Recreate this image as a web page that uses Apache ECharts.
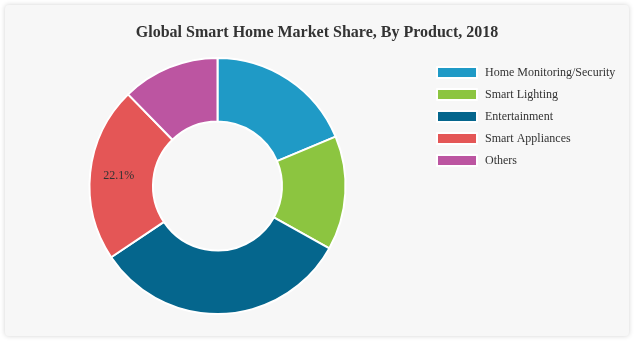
<!DOCTYPE html>
<html>
<head>
<meta charset="utf-8">
<script src="https://cdn.jsdelivr.net/npm/echarts@6/dist/echarts.min.js"></script>
<style>
html,body{margin:0;padding:0;background:#ffffff;width:637px;height:344px;overflow:hidden;}
#card{position:absolute;left:5px;top:5px;width:624px;height:331px;background:#f7f7f7;border-radius:4px;box-shadow:0 0 5px rgba(0,0,0,0.18);}
#chart{width:624px;height:331px;}
</style>
</head>
<body>
<div id="card"><div id="chart"></div></div>
<script>
const categories = ['Home Monitoring/Security', 'Smart Lighting', 'Entertainment', 'Smart Appliances', 'Others'];
const shares = [18.7, 14.4, 32.5, 22.1, 12.3];
const labelledCategory = 'Smart Appliances';
const colors = ['#1f9ac6', '#8cc540', '#05668d', '#e45656', '#bc55a1'];
const fontFamily = '"Liberation Serif", "Times New Roman", serif';

const chart = echarts.init(document.getElementById('chart'), null, {renderer: 'canvas'});
chart.setOption({
  backgroundColor: 'transparent',
  animation: false,
  color: colors,
  title: {
    text: 'Global Smart Home Market Share, By Product, 2018',
    left: 'center',
    top: 15,
    textStyle: {fontFamily: fontFamily, fontSize: 16, fontWeight: 'bold', color: '#333333'}
  },
  legend: {
    orient: 'vertical',
    left: 426,
    top: 56,
    itemWidth: 40,
    itemHeight: 11,
    itemGap: 9,
    icon: 'rect',
    textStyle: {fontFamily: fontFamily, fontSize: 12, color: '#333333', padding: [0,0,0,3]},
    data: categories
  },
  series: [{
    type: 'pie',
    center: [212.5, 181],
    radius: [64.5, 128],
    startAngle: 90,
    clockwise: true,
    avoidLabelOverlap: false,
    itemStyle: {borderColor: '#ffffff', borderWidth: 2},
    label: {show: false},
    labelLine: {show: false},
    emphasis: {disabled: true},
    data: categories.map((c, i) => ({
      name: c,
      value: shares[i],
      label: c === labelledCategory ? {
        show: true, position: 'inside',
        formatter: (p) => p.value.toFixed(1) + '%',
        fontFamily: fontFamily, fontSize: 12, color: '#333333'
      } : {show: false}
    }))
  }]
});
</script>
</body>
</html>
